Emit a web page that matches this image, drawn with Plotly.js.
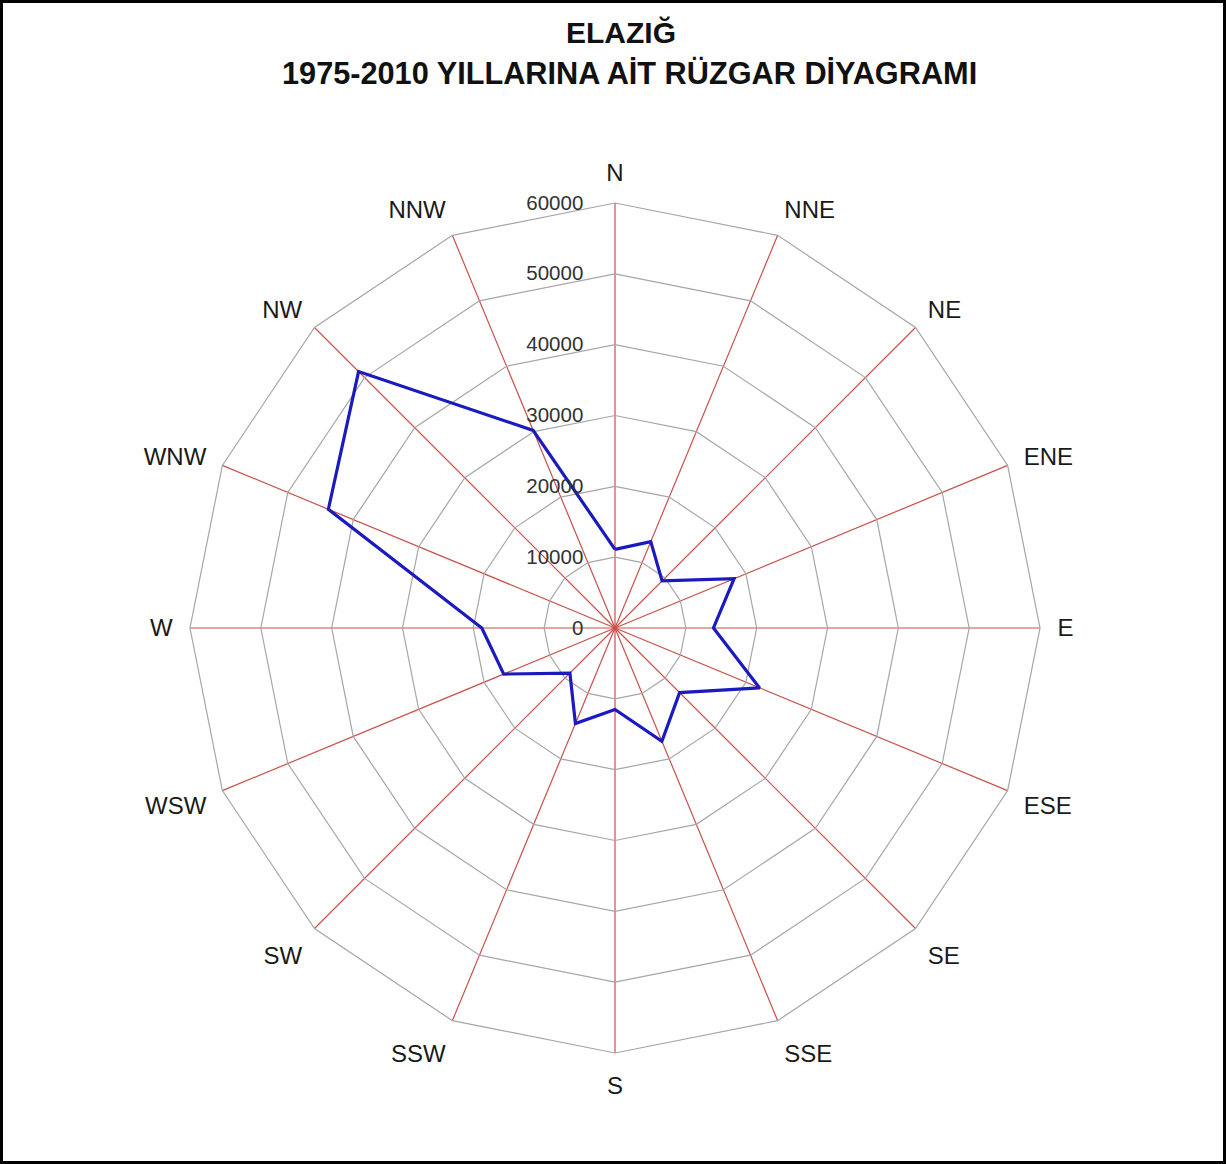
<!DOCTYPE html>
<html>
<head>
<meta charset="utf-8">
<script src="https://cdn.plot.ly/plotly-3.0.1.min.js"></script>
<style>
html,body{margin:0;padding:0;background:#fff;}
#chart{width:1226px;height:1164px;}
</style>
</head>
<body>
<div id="chart"></div>
<script>
const directions = ["N","NNE","NE","ENE","E","ESE","SE","SSE","S","SSW","SW","WSW","W","WNW","NW","NNW"];
const windCounts = [11100,13200,9400,18200,13900,22100,12900,17300,11500,14600,9000,17000,18800,43800,51200,30200];
const radialTicks = [0,10000,20000,30000,40000,50000,60000];
const titleLines = ["ELAZIĞ", "1975-2010 YILLARINA AİT RÜZGAR DİYAGRAMI"];

const W = 1226, H = 1164;
const cx = 615, cy = 628, R = 425;
const FONT = 'Liberation Sans, Arial, sans-serif';

const trace = {
  type: 'scatterpolar',
  r: windCounts.concat([windCounts[0]]),
  theta: directions.concat([directions[0]]),
  mode: 'lines',
  line: {color: '#1a1abf', width: 3.2},
  hoverinfo: 'r+theta',
  showlegend: false
};

const layout = {
  width: W, height: H,
  margin: {l: 0, r: 0, t: 0, b: 0},
  paper_bgcolor: '#ffffff',
  font: {family: FONT, color: '#000'},
  annotations: [
    {text: '<b>' + titleLines[0] + '</b>', xref: 'paper', yref: 'paper', x: 621/W, y: 1 - 32/H,
     xanchor: 'center', yanchor: 'middle', showarrow: false, font: {size: 30, color: '#111', family: FONT}},
    {text: '<b>' + titleLines[1] + '</b>', xref: 'paper', yref: 'paper', x: 629.5/W, y: 1 - 73/H,
     xanchor: 'center', yanchor: 'middle', showarrow: false, font: {size: 30.7, color: '#111', family: FONT}}
  ],
  polar: {
    domain: {
      x: [(cx - R)/W, (cx + R)/W],
      y: [(H - cy - R)/H, (H - cy + R)/H]
    },
    bgcolor: '#ffffff',
    gridshape: 'linear',
    angularaxis: {
      type: 'category',
      categoryarray: directions,
      direction: 'clockwise',
      rotation: 90,
      showgrid: true,
      gridcolor: '#c8504a',
      gridwidth: 1.2,
      showline: true,
      linecolor: '#a6a6a6',
      linewidth: 1.2,
      ticks: 'outside',
      ticklen: 12,
      tickcolor: 'rgba(0,0,0,0)',
      tickfont: {size: 24, color: '#1a1a1a', family: FONT}
    },
    radialaxis: {
      range: [0, 60000],
      tickvals: radialTicks,
      ticktext: radialTicks.map(String),
      angle: 90,
      side: 'counterclockwise',
      showline: false,
      showgrid: true,
      gridcolor: '#a6a6a6',
      gridwidth: 1.2,
      ticks: 'outside',
      ticklen: 24,
      tickcolor: 'rgba(0,0,0,0)',
      tickangle: 90,
      tickfont: {size: 20.5, color: '#333', family: FONT}
    }
  },
  shapes: [{
    type: 'rect', xref: 'paper', yref: 'paper',
    x0: 1.5/W, x1: 1 - 1.5/W, y0: 1.5/H, y1: 1 - 1.5/H,
    line: {color: '#000', width: 3}, fillcolor: 'rgba(0,0,0,0)'
  }]
};

Plotly.newPlot('chart', [trace], layout, {displayModeBar: false, staticPlot: true});
</script>
</body>
</html>
